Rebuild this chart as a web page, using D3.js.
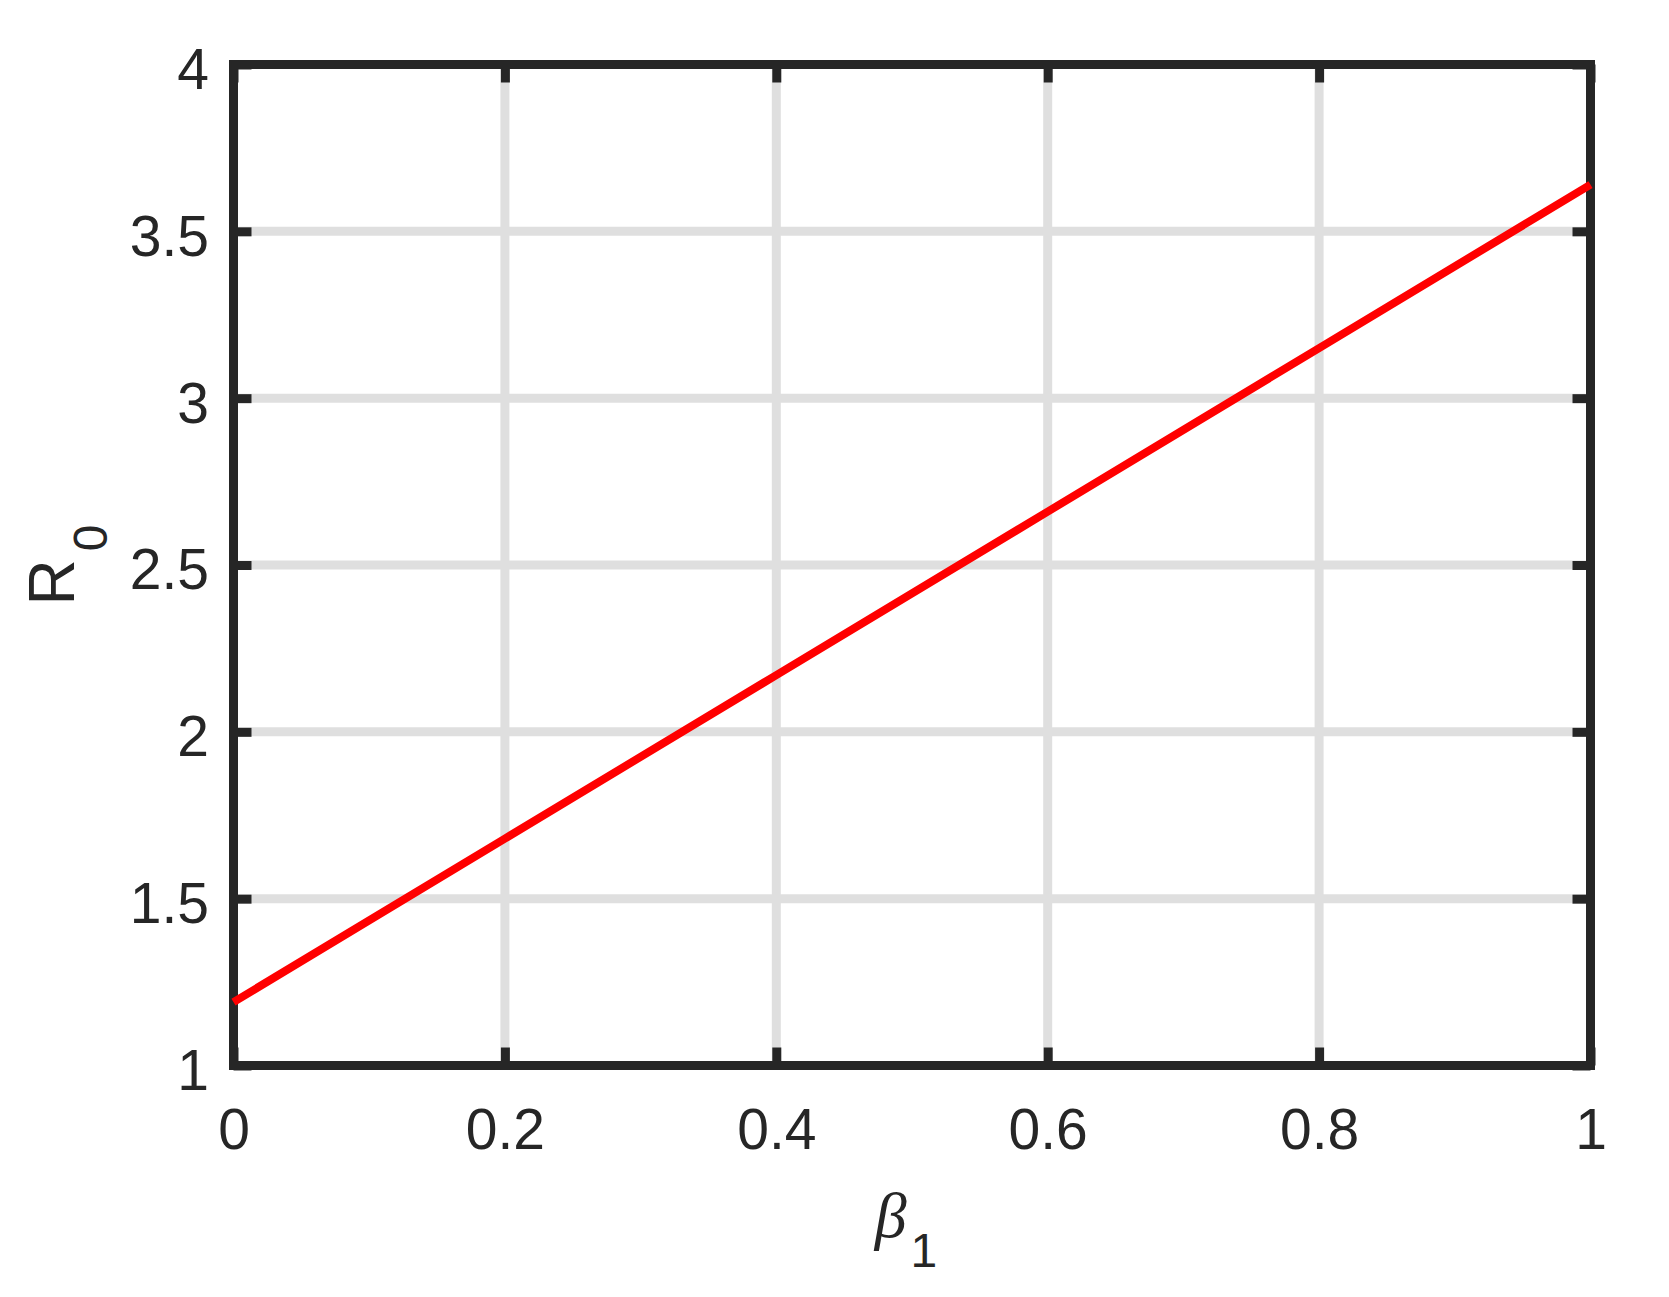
<!DOCTYPE html>
<html lang="en">
<head>
  <meta charset="UTF-8" />
  <title>R0 vs beta1</title>
  <style>
    html, body { margin: 0; padding: 0; background: #fff; }
    svg { display: block; }
    .tick text { font-family: "Liberation Sans", Arial, Helvetica, sans-serif; fill: #262626; }
  </style>
</head>
<body>
  <script src="https://d3js.org/d3.v7.min.js"></script>
  <script>
    // Data
    const beta1 = [0, 0.2, 0.4, 0.6, 0.8, 1];
    const r0 = [1.19, 1.68, 2.17, 2.66, 3.15, 3.64];
    const xTicks = [0, 0.2, 0.4, 0.6, 0.8, 1];
    const yTicks = [1, 1.5, 2, 2.5, 3, 3.5, 4];
    const xTickLabels = ['0', '0.2', '0.4', '0.6', '0.8', '1'];
    const yTickLabels = ['1', '1.5', '2', '2.5', '3', '3.5', '4'];

    const W = 1669, H = 1297;
    const margin = { left: 233.5, top: 64.5, right: W - 1590.5, bottom: H - 1065.5 };
    const width = W - margin.left - margin.right;
    const height = H - margin.top - margin.bottom;

    const axisColor = '#262626';
    const gridColor = '#dfdfdf';
    const lw = 9;      // axis / grid line width
    const tickLen = 18;

    const svg = d3.select('body').append('svg')
      .attr('width', W)
      .attr('height', H);

    const g = svg.append('g')
      .attr('transform', `translate(${margin.left},${margin.top})`);

    const x = d3.scaleLinear().domain([0, 1]).range([0, width]);
    const y = d3.scaleLinear().domain([1, 4]).range([height, 0]);

    // Grid
    g.append('g').selectAll('line')
      .data(xTicks)
      .enter().append('line')
      .attr('x1', d => x(d)).attr('x2', d => x(d))
      .attr('y1', 0).attr('y2', height)
      .attr('stroke', gridColor).attr('stroke-width', lw);

    g.append('g').selectAll('line')
      .data(yTicks)
      .enter().append('line')
      .attr('x1', 0).attr('x2', width)
      .attr('y1', d => y(d)).attr('y2', d => y(d))
      .attr('stroke', gridColor).attr('stroke-width', lw);

    // Axes (ticks pointing inward)
    function styleAxis(sel) {
      sel.select('.domain').remove();
      sel.selectAll('.tick line')
        .attr('stroke', axisColor)
        .attr('stroke-width', lw);
    }

    const xAxis = g.append('g')
      .attr('transform', `translate(0,${height})`)
      .call(d3.axisBottom(x).tickValues(xTicks).tickSize(-tickLen)
        .tickFormat((d, i) => xTickLabels[i]))
      .call(styleAxis);
    xAxis.selectAll('.tick text')
      .attr('y', 83.5).attr('dy', null)
      .attr('font-size', 57);

    const yAxis = g.append('g')
      .call(d3.axisLeft(y).tickValues(yTicks).tickSize(-tickLen)
        .tickFormat((d, i) => yTickLabels[i]))
      .call(styleAxis);
    yAxis.selectAll('.tick text')
      .attr('x', -24.5).attr('dy', '0.42em')
      .attr('font-size', 57);

    g.append('g')
      .call(d3.axisTop(x).tickValues(xTicks).tickSize(-tickLen).tickFormat(''))
      .call(styleAxis);

    g.append('g')
      .attr('transform', `translate(${width},0)`)
      .call(d3.axisRight(y).tickValues(yTicks).tickSize(-tickLen).tickFormat(''))
      .call(styleAxis);

    // Box
    g.append('rect')
      .attr('x', 0).attr('y', 0)
      .attr('width', width).attr('height', height)
      .attr('fill', 'none')
      .attr('stroke', axisColor)
      .attr('stroke-width', lw)
      .attr('stroke-linecap', 'square');

    // Line
    const line = d3.line()
      .x((d, i) => x(beta1[i]))
      .y(d => y(d));

    g.append('path')
      .datum(r0)
      .attr('d', line)
      .attr('fill', 'none')
      .attr('stroke', '#ff0000')
      .attr('stroke-width', 8);

    // Axis labels
    const xLabel = svg.append('text')
      .attr('x', margin.left + width / 2 - 6)
      .attr('y', 1237)
      .attr('text-anchor', 'middle')
      .attr('fill', axisColor);
    xLabel.append('tspan')
      .attr('font-family', '"Liberation Serif", "Times New Roman", serif')
      .attr('font-style', 'italic')
      .attr('font-size', 64)
      .text('β');
    xLabel.append('tspan')
      .attr('font-family', '"Liberation Sans", Arial, sans-serif')
      .attr('font-size', 48)
      .attr('dx', 4)
      .attr('dy', 30)
      .text('1');

    const yLabel = svg.append('text')
      .attr('transform', `translate(74,${margin.top + height / 2}) rotate(-90)`)
      .attr('text-anchor', 'middle')
      .attr('fill', axisColor)
      .attr('font-family', '"Liberation Sans", Arial, sans-serif');
    yLabel.append('tspan')
      .attr('font-size', 64)
      .text('R');
    yLabel.append('tspan')
      .attr('font-size', 48)
      .attr('dx', 8)
      .attr('dy', 33)
      .text('0');
  </script>
</body>
</html>
